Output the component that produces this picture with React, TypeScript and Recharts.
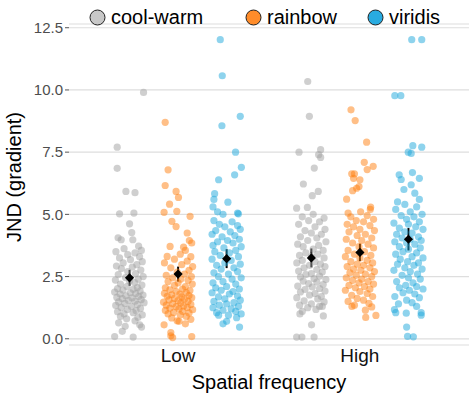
import React from 'react';
import { ScatterChart, Scatter, XAxis, YAxis, CartesianGrid, Legend, ErrorBar, Label } from 'recharts';

// categories
const frequencies = ['Low', 'High'];
const colormaps = ['cool-warm', 'rainbow', 'viridis'];
const yTicks = [0, 2.5, 5, 7.5, 10, 12.5];

// raw JND values per participant: [jitter, value]
const coolWarmLow = [
  [0.077, 9.9], [-0.068, 7.7], [-0.068, 6.85], [-0.02, 5.92], [0.03, 5.87], [-0.055, 5.02], [0.024, 5.05], [0.0, 4.62],
  [0.012, 4.27], [-0.063, 4.06], [-0.046, 3.98], [0.018, 3.98], [0.05, 3.72], [-0.03, 3.62], [0.065, 3.55], [-0.075, 3.5],
  [0.03, 3.45], [-0.01, 3.38], [0.055, 3.3], [-0.055, 3.25], [0.005, 3.18], [0.07, 3.1], [-0.035, 3.05], [0.04, 2.98],
  [-0.072, 2.92], [0.015, 2.88], [-0.045, 2.82], [0.062, 2.76], [-0.01, 2.7], [0.033, 2.62], [-0.062, 2.58], [0.075, 2.5],
  [-0.022, 2.46], [0.048, 2.4], [-0.078, 2.36], [0.0, 2.32], [0.028, 2.26], [-0.05, 2.2], [0.068, 2.16], [-0.015, 2.1],
  [0.043, 2.06], [-0.066, 2.02], [0.02, 1.99], [-0.036, 1.96], [0.058, 1.92], [-0.082, 1.88], [0.004, 1.85], [0.034, 1.82],
  [-0.052, 1.8], [0.074, 1.76], [-0.02, 1.73], [0.05, 1.7], [-0.07, 1.66], [0.014, 1.64], [-0.04, 1.61], [0.064, 1.57],
  [-0.006, 1.54], [0.03, 1.51], [-0.06, 1.48], [0.08, 1.45], [-0.026, 1.42], [0.044, 1.38], [-0.076, 1.34], [0.01, 1.3],
  [-0.046, 1.26], [0.06, 1.22], [-0.012, 1.18], [0.036, 1.13], [-0.066, 1.09], [0.02, 1.05], [-0.03, 1.0], [0.07, 0.96],
  [-0.05, 0.9], [0.046, 0.86], [-0.016, 0.8], [0.03, 0.72], [-0.06, 0.64], [0.056, 0.56], [-0.024, 0.5], [0.066, 0.47],
  [-0.04, 0.3], [-0.082, 0.09], [0.02, 0.07],
];
const rainbowLow = [
  [-0.071, 8.7], [-0.055, 6.79], [-0.071, 6.16], [-0.011, 5.92], [0.002, 5.68], [-0.047, 5.41], [-0.077, 5.08], [-0.007, 5.12],
  [0.066, 4.92], [-0.034, 4.72], [-0.011, 4.51], [0.05, 4.25], [0.062, 3.95], [0.075, 3.85], [-0.044, 3.71], [0.03, 3.68],
  [0.04, 3.55], [-0.06, 3.31], [0.012, 3.4], [0.07, 3.3], [-0.02, 3.2], [0.05, 3.12], [-0.075, 3.05], [0.02, 2.98],
  [0.08, 2.9], [-0.04, 2.85], [0.06, 2.75], [-0.005, 2.68], [0.035, 2.6], [-0.065, 2.55], [0.073, 2.5], [-0.03, 2.45],
  [0.015, 2.4], [0.055, 2.35], [-0.055, 2.3], [0.0, 2.25], [0.078, 2.2], [-0.02, 2.15], [0.04, 2.1], [-0.07, 2.05],
  [0.025, 2.0], [-0.045, 1.97], [0.065, 1.94], [-0.01, 1.9], [0.045, 1.86], [-0.075, 1.83], [0.01, 1.8], [-0.035, 1.77],
  [0.06, 1.74], [-0.06, 1.71], [0.02, 1.68], [0.075, 1.65], [-0.02, 1.62], [0.035, 1.59], [-0.05, 1.56], [0.0, 1.53],
  [0.055, 1.5], [-0.08, 1.47], [0.015, 1.44], [-0.03, 1.41], [0.07, 1.38], [-0.065, 1.35], [0.03, 1.32], [-0.01, 1.29],
  [0.05, 1.26], [-0.045, 1.23], [0.005, 1.2], [0.08, 1.17], [-0.07, 1.14], [0.025, 1.1], [-0.025, 1.06], [0.06, 1.04],
  [-0.055, 1.0], [0.012, 0.96], [0.045, 0.9], [-0.035, 0.84], [0.07, 0.78], [-0.005, 0.72], [0.005, 0.7], [0.04, 0.6],
  [-0.077, 0.56], [-0.04, 0.25], [-0.04, 0.12], [-0.03, 0.05], [0.075, 0.09],
];
const viridisLow = [
  [-0.035, 12.02], [-0.024, 10.57], [0.075, 8.94], [-0.026, 8.56], [0.049, 7.5], [0.081, 6.89], [0.044, 6.59], [-0.044, 6.39],
  [-0.066, 5.83], [-0.07, 5.6], [0.007, 5.49], [-0.075, 5.3], [0.06, 5.05], [0.065, 5.02], [-0.05, 5.1], [-0.02, 5.0],
  [-0.07, 4.75], [0.03, 4.7], [-0.04, 4.6], [0.06, 4.55], [-0.01, 4.5], [0.075, 4.4], [-0.06, 4.35], [0.02, 4.3],
  [-0.08, 4.2], [0.045, 4.15], [-0.025, 4.1], [0.07, 4.0], [0.005, 3.95], [-0.05, 3.9], [0.035, 3.85], [-0.075, 3.75],
  [0.08, 3.7], [-0.015, 3.65], [0.05, 3.55], [-0.065, 3.5], [0.015, 3.45], [-0.035, 3.35], [0.065, 3.3], [-0.08, 3.2],
  [0.025, 3.15], [-0.01, 3.05], [0.075, 3.0], [-0.055, 2.95], [0.04, 2.85], [-0.03, 2.8], [0.06, 2.7], [-0.07, 2.65],
  [0.01, 2.6], [-0.045, 2.5], [0.08, 2.45], [0.03, 2.4], [-0.02, 2.3], [-0.075, 2.25], [0.05, 2.2], [0.0, 2.1],
  [-0.06, 2.05], [0.07, 2.0], [-0.03, 1.95], [0.035, 1.9], [-0.08, 1.85], [0.015, 1.8], [0.06, 1.72], [-0.045, 1.68],
  [-0.01, 1.6], [0.075, 1.55], [-0.07, 1.5], [0.04, 1.45], [0.0, 1.4], [-0.04, 1.35], [0.065, 1.3], [-0.075, 1.25],
  [0.025, 1.2], [-0.02, 1.15], [0.05, 1.1], [-0.055, 1.05], [0.08, 1.0], [0.01, 0.95], [-0.044, 0.95], [0.055, 0.85],
  [0.0, 0.7], [0.071, 0.47], [-0.02, 0.6],
];
const coolWarmHigh = [
  [-0.02, 10.34], [-0.011, 8.94], [-0.068, 7.5], [0.051, 7.6], [0.051, 7.29], [0.04, 7.4], [0.016, 6.86], [-0.044, 6.22],
  [0.005, 5.75], [0.038, 5.92], [-0.081, 5.25], [-0.022, 5.28], [0.01, 5.0], [-0.05, 4.9], [0.07, 4.85], [-0.015, 4.75],
  [0.045, 4.7], [-0.07, 4.6], [0.02, 4.5], [0.075, 4.4], [-0.035, 4.35], [0.0, 4.25], [0.055, 4.2], [-0.06, 4.1],
  [0.03, 4.05], [-0.02, 3.95], [0.08, 3.9], [-0.075, 3.8], [0.04, 3.75], [-0.045, 3.7], [0.01, 3.6], [0.065, 3.55],
  [-0.03, 3.45], [0.035, 3.4], [-0.065, 3.35], [0.0, 3.3], [0.07, 3.25], [-0.05, 3.15], [0.02, 3.1], [-0.08, 3.05],
  [0.05, 3.0], [-0.01, 2.95], [0.075, 2.9], [-0.04, 2.85], [0.03, 2.78], [-0.07, 2.72], [0.06, 2.68], [0.0, 2.62],
  [-0.03, 2.58], [0.045, 2.52], [-0.06, 2.48], [0.015, 2.42], [0.08, 2.38], [-0.045, 2.32], [0.03, 2.28], [-0.015, 2.22],
  [0.065, 2.18], [-0.075, 2.12], [0.005, 2.08], [0.045, 2.02], [-0.035, 1.98], [0.075, 1.92], [-0.06, 1.88], [0.02, 1.82],
  [-0.01, 1.76], [0.055, 1.7], [-0.08, 1.65], [0.035, 1.6], [-0.04, 1.52], [0.07, 1.48], [0.0, 1.4], [-0.065, 1.35],
  [0.045, 1.3], [-0.02, 1.25], [0.025, 1.18], [-0.05, 1.1], [0.06, 1.3], [-0.063, 1.0], [0.066, 0.92], [0.001, 0.56],
  [-0.081, 0.07], [-0.052, 0.07], [0.015, 0.07],
];
const rainbowHigh = [
  [-0.049, 9.2], [-0.026, 8.77], [0.037, 7.9], [0.024, 7.09], [0.073, 6.93], [0.04, 6.8], [-0.045, 6.63], [-0.03, 6.63],
  [-0.035, 6.45], [0.0, 6.39], [-0.005, 6.12], [-0.018, 6.05], [-0.04, 5.95], [-0.073, 5.61], [0.059, 5.29], [0.057, 5.2],
  [-0.065, 5.05], [0.004, 5.1], [0.04, 4.95], [-0.05, 4.9], [0.075, 4.8], [-0.02, 4.75], [0.02, 4.7], [-0.07, 4.6],
  [0.055, 4.55], [-0.035, 4.5], [0.0, 4.4], [0.08, 4.35], [-0.06, 4.3], [0.03, 4.2], [-0.015, 4.15], [0.065, 4.05],
  [-0.075, 4.0], [0.01, 3.95], [-0.04, 3.85], [0.045, 3.8], [-0.005, 3.7], [0.075, 3.65], [-0.065, 3.55], [0.025, 3.5],
  [-0.03, 3.4], [0.06, 3.35], [-0.08, 3.3], [0.0, 3.25], [0.04, 3.15], [-0.05, 3.1], [0.07, 3.05], [-0.015, 3.0],
  [0.02, 2.95], [-0.07, 2.9], [0.055, 2.85], [-0.035, 2.8], [0.005, 2.75], [0.08, 2.7], [-0.055, 2.65], [0.03, 2.6],
  [-0.02, 2.55], [0.065, 2.5], [-0.075, 2.45], [0.01, 2.4], [-0.04, 2.35], [0.045, 2.3], [-0.005, 2.25], [0.075, 2.2],
  [-0.06, 2.15], [0.025, 2.1], [-0.025, 2.05], [0.055, 2.0], [-0.08, 1.95], [0.0, 1.9], [0.04, 1.82], [-0.045, 1.75],
  [0.07, 1.7], [-0.015, 1.62], [0.02, 1.55], [-0.065, 1.5], [0.05, 1.42], [-0.03, 1.35], [0.065, 1.28], [-0.044, 1.3],
  [0.03, 1.15], [0.032, 0.86], [0.088, 0.94],
];
const viridisHigh = [
  [0.018, 12.02], [0.073, 12.02], [-0.075, 9.77], [-0.042, 9.77], [0.024, 7.76], [0.073, 7.7], [-0.001, 7.5], [0.015, 7.45],
  [-0.051, 6.59], [-0.04, 6.4], [0.022, 6.68], [0.06, 6.45], [0.015, 6.19], [-0.025, 6.0], [0.035, 5.85], [0.06, 5.6],
  [-0.06, 5.5], [-0.02, 5.4], [0.045, 5.3], [-0.07, 5.2], [0.01, 5.1], [0.075, 5.0], [-0.04, 4.95], [0.03, 4.9],
  [-0.01, 4.8], [0.06, 4.7], [-0.08, 4.65], [0.0, 4.6], [0.04, 4.5], [-0.05, 4.45], [0.08, 4.4], [-0.02, 4.3],
  [0.02, 4.25], [-0.065, 4.2], [0.055, 4.1], [-0.035, 4.05], [0.01, 4.0], [0.07, 3.95], [-0.075, 3.9], [-0.01, 3.85],
  [0.035, 3.8], [-0.05, 3.7], [0.065, 3.65], [0.0, 3.6], [-0.03, 3.5], [0.045, 3.45], [-0.07, 3.4], [0.02, 3.3],
  [0.08, 3.25], [-0.045, 3.2], [-0.005, 3.1], [0.055, 3.05], [-0.06, 3.0], [0.03, 2.95], [-0.02, 2.85], [0.075, 2.8],
  [-0.08, 2.75], [0.01, 2.7], [0.05, 2.6], [-0.035, 2.55], [0.0, 2.45], [0.065, 2.4], [-0.065, 2.3], [0.025, 2.25],
  [-0.015, 2.15], [0.045, 2.1], [-0.05, 2.05], [0.08, 2.0], [0.005, 1.95], [-0.03, 1.85], [0.035, 1.8], [-0.075, 1.7],
  [0.06, 1.65], [-0.01, 1.55], [0.02, 1.45], [-0.055, 1.4], [0.045, 1.3], [-0.077, 1.17], [-0.07, 1.05], [-0.012, 1.03],
  [0.07, 1.05], [0.07, 0.95], [-0.01, 0.47], [-0.005, 0.1], [0.027, 0.08],
];

// group means and error (Low, High)
const meanCoolWarm = [2.45, 3.25];
const meanRainbow = [2.6, 3.47];
const meanViridis = [3.22, 4.0];
const errCoolWarm = [0.32, 0.38];
const errRainbow = [0.3, 0.35];
const errViridis = [0.38, 0.45];

const legendFills = ['#c8c8c8', '#ff8c2a', '#29abe0'];
const pointFills = ['#a0a0a0', '#ff7f10', '#1ea7dc'];
const dodge = [-0.267, 0, 0.267];
const FONT = '"Liberation Sans", Arial, Helvetica, sans-serif';

const rawGroups = [
  [coolWarmLow, rainbowLow, viridisLow],
  [coolWarmHigh, rainbowHigh, viridisHigh],
];
const means = [meanCoolWarm, meanRainbow, meanViridis];
const errs = [errCoolWarm, errRainbow, errViridis];

const seriesList = frequencies.flatMap((f, fi) =>
  colormaps.map((c, ci) => ({
    key: `${f}-${c}`,
    ci,
    data: rawGroups[fi][ci].map(([dx, y]) => ({ x: fi + 1 + dodge[ci] + dx, y })),
  }))
);

const meanData = frequencies.flatMap((f, fi) =>
  colormaps.map((c, ci) => ({ x: fi + 1 + dodge[ci], y: means[ci][fi], err: errs[ci][fi] }))
);

const makeDot = (fill: string) => (props: any) => (
  <circle cx={props.cx} cy={props.cy} r={3.6} fill={fill} fillOpacity={0.5} />
);

const Diamond = (props: any) => {
  const { cx, cy } = props;
  const s = 4.6;
  return <polygon points={`${cx},${cy - s} ${cx + s},${cy} ${cx},${cy + s} ${cx - s},${cy}`} fill="#000" />;
};

const legendLefts = [89, 245, 367];

const LegendContent = () => (
  <div style={{ position: 'relative', width: 469, height: 34, fontFamily: FONT }}>
    {colormaps.map((name, i) => (
      <div
        key={name}
        style={{ position: 'absolute', left: legendLefts[i], top: 5, height: 24, display: 'flex', alignItems: 'center' }}
      >
        <svg width={17} height={17}>
          <circle cx={8.5} cy={8.5} r={7.5} fill={legendFills[i]} stroke="#222" strokeWidth={1} />
        </svg>
        <span style={{ marginLeft: 5, fontSize: 20, lineHeight: '24px', color: '#000' }}>{name}</span>
      </div>
    ))}
  </div>
);

const App: React.FC = () => {
  return (
    <div style={{ position: 'absolute', left: 0, top: 0, width: 469, height: 401, background: '#fff', fontFamily: FONT }}>
      <ScatterChart width={469} height={401} margin={{ top: 24, right: 0, bottom: 0, left: 0 }}>
        <CartesianGrid vertical={false} stroke="#dedede" strokeWidth={1.2} />
        <XAxis
          type="number"
          dataKey="x"
          domain={[0.4, 2.6]}
          ticks={[1, 2]}
          tickFormatter={(v: number) => frequencies[v - 1]}
          axisLine={false}
          tickLine={false}
          tickSize={0}
          tickMargin={4}
          height={56}
          tick={{ fontSize: 19, fill: '#111' }}
          allowDataOverflow
        >
          <Label value="Spatial frequency" position="insideBottom" offset={12} fontSize={20} fill="#000" />
        </XAxis>
        <YAxis
          type="number"
          dataKey="y"
          domain={[-0.25, 12.65]}
          ticks={yTicks}
          tickFormatter={(v: number) => v.toFixed(1)}
          axisLine={false}
          tickLine={{ stroke: '#555' }}
          tickSize={4}
          tickMargin={2}
          width={69}
          tick={{ fontSize: 15, fill: '#4d4d4d' }}
          allowDataOverflow
        >
          <Label
            content={() => (
              <text x={14} y={177} transform="rotate(-90 14 177)" textAnchor="middle" dominantBaseline="central" fontSize={20} fill="#000">
                JND (gradient)
              </text>
            )}
          />
        </YAxis>
        <Legend
          verticalAlign="middle"
          align="center"
          content={<LegendContent />}
          wrapperStyle={{ top: 0, left: 0, width: 469, height: 34 }}
        />
        {seriesList.map((s) => (
          <Scatter
            key={s.key}
            name={s.key}
            data={s.data}
            shape={makeDot(pointFills[s.ci])}
            isAnimationActive={false}
            legendType="none"
          />
        ))}
        <Scatter name="mean" data={meanData} shape={Diamond} isAnimationActive={false} legendType="none">
          <ErrorBar dataKey="err" direction="y" width={0} stroke="#000" strokeWidth={2} />
        </Scatter>
      </ScatterChart>
    </div>
  );
};

export default App;
